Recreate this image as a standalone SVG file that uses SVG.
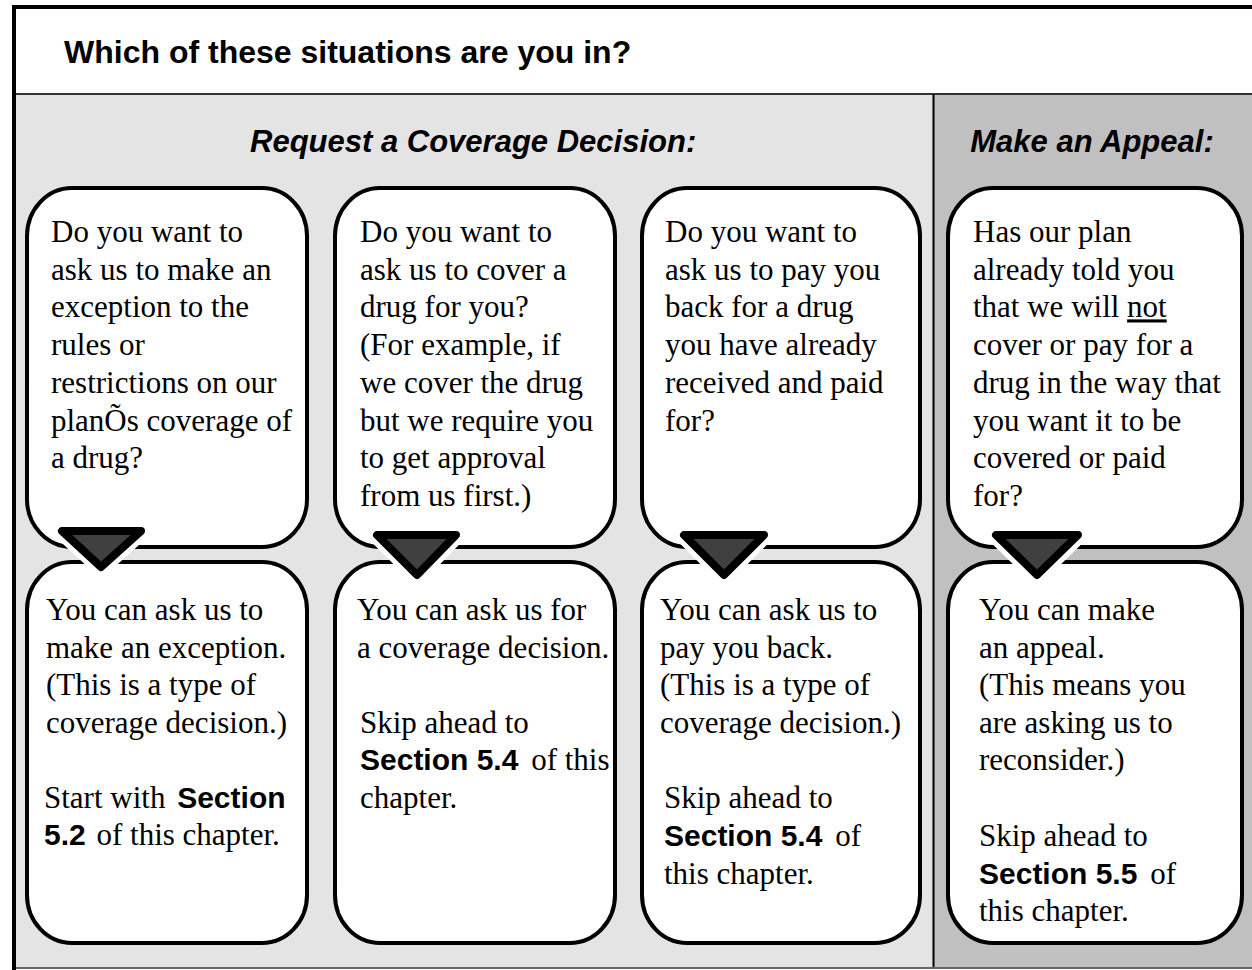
<svg xmlns="http://www.w3.org/2000/svg" width="1252" height="970" viewBox="0 0 1252 970">
<defs>
<style>
.bub{fill:#ffffff;stroke:#000000;stroke-width:4}
.t{font-family:"Liberation Serif","Times New Roman",serif;font-size:31px;fill:#000}
.b{font-family:"Liberation Sans",Arial,sans-serif;font-size:30px;font-weight:bold}
.h{font-family:"Liberation Sans",Arial,sans-serif;font-weight:bold;fill:#000}
.halo{fill:#ffffff;stroke:#ffffff;stroke-width:18;stroke-linejoin:round}
.tri{fill:#404040;stroke:#000000;stroke-width:8;stroke-linejoin:round}
</style>
</defs>
<g id="frame">
<rect x="14" y="7" width="1240" height="87" fill="#ffffff"/>
<rect x="14" y="94" width="919" height="874" fill="#e4e4e4"/>
<rect x="933" y="94" width="321" height="874" fill="#c0c0c0"/>
<line x1="14" y1="94" x2="1252" y2="94" stroke="#333" stroke-width="2"/>
<line x1="933.5" y1="94" x2="933.5" y2="968" stroke="#000" stroke-width="2"/>
<line x1="14" y1="968" x2="1252" y2="968" stroke="#666" stroke-width="2"/>
<line x1="12" y1="7" x2="1252" y2="7" stroke="#000" stroke-width="4"/>
<line x1="14" y1="5" x2="14" y2="970" stroke="#000" stroke-width="4"/>
</g>
<g id="title">
<text class="h" x="64" y="63" font-size="32">Which of these situations are you in?</text>
</g>
<g id="heading-coverage">
<text class="h" x="250" y="152" font-size="31" font-style="italic">Request a Coverage Decision:</text>
</g>
<g id="heading-appeal">
<text class="h" x="1092" y="152" font-size="31" font-style="italic" text-anchor="middle">Make an Appeal:</text>
</g>
<g id="q1">
<rect class="bub" x="27" y="188" width="280" height="359" rx="45" ry="48"/>
<text class="t"><tspan x="51" y="242">Do you want to</tspan><tspan x="51" y="279.7">ask us to make an</tspan><tspan x="51" y="317.4">exception to the</tspan><tspan x="51" y="355.1">rules or</tspan><tspan x="51" y="392.8">restrictions on our</tspan><tspan x="51" y="430.5">planÕs coverage of</tspan><tspan x="51" y="468.2">a drug?</tspan></text>
</g>
<g id="q2">
<rect class="bub" x="335" y="188" width="280" height="359" rx="45" ry="48"/>
<text class="t"><tspan x="360" y="242">Do you want to</tspan><tspan x="360" y="279.7">ask us to cover a</tspan><tspan x="360" y="317.4">drug for you?</tspan><tspan x="360" y="355.1">(For example, if</tspan><tspan x="360" y="392.8">we cover the drug</tspan><tspan x="360" y="430.5">but we require you</tspan><tspan x="360" y="468.2">to get approval</tspan><tspan x="360" y="505.9">from us first.)</tspan></text>
</g>
<g id="q3">
<rect class="bub" x="642" y="188" width="278" height="359" rx="45" ry="48"/>
<text class="t"><tspan x="665" y="242">Do you want to</tspan><tspan x="665" y="279.7">ask us to pay you</tspan><tspan x="665" y="317.4">back for a drug</tspan><tspan x="665" y="355.1">you have already</tspan><tspan x="665" y="392.8">received and paid</tspan><tspan x="665" y="430.5">for?</tspan></text>
</g>
<g id="q4">
<rect class="bub" x="948" y="188" width="294" height="359" rx="45" ry="48"/>
<text class="t"><tspan x="973" y="242">Has our plan</tspan><tspan x="973" y="279.7">already told you</tspan><tspan x="973" y="317.4">that we will <tspan text-decoration="underline">not</tspan></tspan><tspan x="973" y="355.1">cover or pay for a</tspan><tspan x="973" y="392.8">drug in the way that</tspan><tspan x="973" y="430.5">you want it to be</tspan><tspan x="973" y="468.2">covered or paid</tspan><tspan x="973" y="505.9">for?</tspan></text>
</g>
<g id="a1">
<rect class="bub" x="27" y="562" width="280" height="381" rx="45" ry="48"/>
<text class="t"><tspan x="46" y="620">You can ask us to</tspan><tspan x="46" y="657.5">make an exception.</tspan><tspan x="46" y="695">(This is a type of</tspan><tspan x="46" y="732.5">coverage decision.)</tspan><tspan x="44" y="807.5">Start with <tspan class="b" dx="4">Section</tspan></tspan><tspan x="44" y="845"><tspan class="b">5.2</tspan><tspan dx="3"> of this chapter.</tspan></tspan></text>
</g>
<g id="a2">
<rect class="bub" x="335" y="562" width="280" height="381" rx="45" ry="48"/>
<text class="t"><tspan x="357" y="620">You can ask us for</tspan><tspan x="357" y="657.5">a coverage decision.</tspan><tspan x="360" y="732.5">Skip ahead to</tspan><tspan x="360" y="770"><tspan class="b">Section 5.4</tspan><tspan dx="5"> of this</tspan></tspan><tspan x="360" y="807.5">chapter.</tspan></text>
</g>
<g id="a3">
<rect class="bub" x="642" y="562" width="278" height="381" rx="45" ry="48"/>
<text class="t"><tspan x="660" y="620">You can ask us to</tspan><tspan x="660" y="657.5">pay you back.</tspan><tspan x="660" y="695">(This is a type of</tspan><tspan x="660" y="732.5">coverage decision.)</tspan><tspan x="664" y="808">Skip ahead to</tspan><tspan x="664" y="846"><tspan class="b">Section 5.4</tspan><tspan dx="5"> of</tspan></tspan><tspan x="664" y="884">this chapter.</tspan></text>
</g>
<g id="a4">
<rect class="bub" x="948" y="562" width="294" height="381" rx="45" ry="48"/>
<text class="t"><tspan x="979" y="620">You can make</tspan><tspan x="979" y="657.5">an appeal.</tspan><tspan x="979" y="695">(This means you</tspan><tspan x="979" y="732.5">are asking us to</tspan><tspan x="979" y="770">reconsider.)</tspan><tspan x="979" y="846">Skip ahead to</tspan><tspan x="979" y="883.5"><tspan class="b">Section 5.5</tspan><tspan dx="5"> of</tspan></tspan><tspan x="979" y="921">this chapter.</tspan></text>
</g>
<g id="connectors">
<polygon class="halo" points="62,531 141,531 101,567"/>
<polygon class="tri" points="62,531 141,531 101,567"/>
<polygon class="halo" points="377,535 456,535 417,575"/>
<polygon class="tri" points="377,535 456,535 417,575"/>
<polygon class="halo" points="684,535 764,535 724,575"/>
<polygon class="tri" points="684,535 764,535 724,575"/>
<polygon class="halo" points="996,535 1078,535 1037,575"/>
<polygon class="tri" points="996,535 1078,535 1037,575"/>
</g>
</svg>
